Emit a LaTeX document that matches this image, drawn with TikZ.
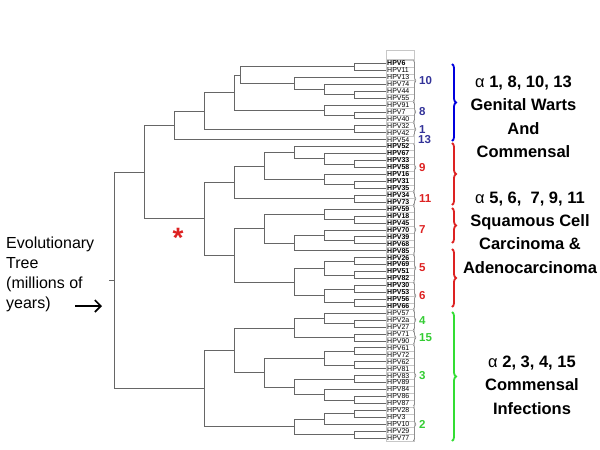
\documentclass[tikz,border=0pt]{standalone}
\usepackage{fontspec}
\setmainfont{Liberation Sans}
\usetikzlibrary{calc,decorations.pathreplacing,arrows.meta}
\definecolor{navy}{HTML}{333399}
\definecolor{bred}{HTML}{DD2222}
\definecolor{bgreen}{HTML}{33CC33}
\definecolor{pblue}{HTML}{0000DD}
\definecolor{pgreen}{HTML}{33DD33}
\tikzset{
  treeline/.style={draw=black!60, line width=0.7pt},
  leafbox/.style={draw=black!22, line width=0.4pt, anchor=west, inner xsep=1pt, inner ysep=0pt,
    text width=26pt, minimum height=6.94pt, align=left, font=\fontsize{7}{7}\selectfont},
  sbrace/.style={draw=black!55, line width=0.5pt, decorate, decoration={brace, amplitude=2.5pt}},
  bbrace/.style={line width=1.8pt, decorate, decoration={brace, amplitude=4pt}},
  grpnum/.style={inner sep=0pt, font=\bfseries\fontsize{11.5}{11.5}\selectfont},
  bigtxt/.style={align=center, inner sep=0pt, font=\bfseries\fontsize{16.5}{23.4}\selectfont},
}
\newcommand\tjoin[4]{%
  \path let \p1=(#3), \p2=(#4) in (#2pt,{(\y1+\y2)/2}) coordinate (#1);
  \draw[treeline] (#1) |- (#3);
  \draw[treeline] (#1) |- (#4);
}
\newcommand\grp[4]{%
  \draw[sbrace] ([xshift=-1pt,yshift=-0.8pt]h#1.north east) -- ([xshift=-1pt,yshift=0.8pt]h#2.south east)
    node[midway, anchor=west, xshift=5.5pt, grpnum, text=#4] (n#3) {#3};
}
\begin{document}
\begin{tikzpicture}[x=1pt,y=-1pt]
\useasboundingbox (0,0) rectangle (600,450);
% leaf labels
\foreach \i/\t/\b in {1/6/1, 2/11/0, 3/13/0, 4/74/0, 5/44/0, 6/55/0, 7/91/0, 8/7/0, 9/40/0, 10/32/0,
  11/42/0, 12/54/0, 13/52/1, 14/67/1, 15/33/1, 16/58/1, 17/16/1, 18/31/1, 19/35/1, 20/34/1,
  21/73/1, 22/59/1, 23/18/1, 24/45/1, 25/70/1, 26/39/1, 27/68/1, 28/85/1, 29/26/1, 30/69/1,
  31/51/1, 32/82/1, 33/30/1, 34/53/1, 35/56/1, 36/66/1, 37/57/0, 38/2a/0, 39/27/0, 40/71/0,
  41/90/0, 42/61/0, 43/72/0, 44/62/0, 45/81/0, 46/83/0, 47/89/0, 48/84/0, 49/86/0, 50/87/0,
  51/28/0, 52/3/0, 53/10/0, 54/29/0, 55/77/0}{
  \node[leafbox] (h\i) at (386,{63.3+(\i-1)*6.94}) {\ifnum\b=1 \bfseries\fi HPV\t};
}
\node[draw=black!22, line width=0.4pt, anchor=south west, inner sep=0pt, minimum width=28pt, minimum height=9pt] (hdr) at (h1.north west) {};
% alpha 10, 8, 1, 13
\tjoin{a1}{354}{h1}{h2}
\tjoin{a2}{354}{h5}{h6}
\tjoin{a3}{324}{h4}{a2}
\tjoin{a4}{294}{h3}{a3}
\tjoin{a5}{240}{a1}{a4}
\tjoin{b1}{354}{h8}{h9}
\tjoin{b2}{324}{h7}{b1}
\tjoin{c1}{234}{a5}{b2}
\tjoin{d1}{354}{h10}{h11}
\tjoin{c2}{204}{c1}{d1}
\tjoin{c3}{174}{c2}{h12}
% alpha 9, 11
\tjoin{e1}{354}{h15}{h16}
\tjoin{e2}{324}{h14}{e1}
\tjoin{e3}{294}{h13}{e2}
\tjoin{e4}{354}{h18}{h19}
\tjoin{e5}{324}{h17}{e4}
\tjoin{e6}{264}{e3}{e5}
\tjoin{f1}{354}{h20}{h21}
\tjoin{g1}{234}{e6}{f1}
% alpha 7, 5, 6
\tjoin{k1}{354}{h23}{h24}
\tjoin{k2}{324}{h22}{k1}
\tjoin{k3}{354}{h26}{h27}
\tjoin{k4}{324}{h25}{k3}
\tjoin{k5}{294}{k4}{h28}
\tjoin{k6}{264}{k2}{k5}
\tjoin{m1}{354}{h29}{h30}
\tjoin{m2}{354}{h31}{h32}
\tjoin{m3}{324}{m1}{m2}
\tjoin{m4}{354}{h33}{h34}
\tjoin{m5}{354}{h35}{h36}
\tjoin{m6}{324}{m4}{m5}
\tjoin{m7}{294}{m3}{m6}
\tjoin{g2}{234}{k6}{m7}
\tjoin{g3}{204}{g1}{g2}
\tjoin{c4}{144}{c3}{g3}
% alpha 4, 15, 3, 2
\tjoin{p1}{354}{h38}{h39}
\tjoin{p2}{324}{h37}{p1}
\tjoin{p3}{354}{h40}{h41}
\tjoin{p4}{294}{p2}{p3}
\tjoin{q1}{354}{h42}{h43}
\tjoin{q2}{354}{h44}{h45}
\tjoin{q3}{324}{q1}{q2}
\tjoin{q4}{354}{h46}{h47}
\tjoin{q5}{354}{h49}{h50}
\tjoin{q6}{324}{h48}{q5}
\tjoin{q7}{294}{q4}{q6}
\tjoin{q8}{264}{q3}{q7}
\tjoin{r1}{234}{p4}{q8}
\tjoin{s1}{354}{h51}{h52}
\tjoin{s2}{324}{s1}{h53}
\tjoin{s3}{354}{h54}{h55}
\tjoin{s4}{294}{s2}{s3}
\tjoin{r2}{204}{r1}{s4}
\tjoin{root}{114}{c4}{r2}
\path let \p1=(root) in (109pt,\y1) coordinate (rootL);
\draw[treeline] (rootL) -- (root);
% small group braces and numbers
\grp{1}{6}{10}{navy}
\grp{7}{9}{8}{navy}
\grp{10}{11}{1}{navy}
\node[grpnum, text=navy, anchor=west] (n13) at (418,140) {13};
\grp{13}{19}{9}{bred}
\grp{20}{21}{11}{bred}
\grp{22}{28}{7}{bred}
\grp{29}{32}{5}{bred}
\grp{33}{36}{6}{bred}
\grp{37}{39}{4}{bgreen}
\grp{40}{41}{15}{bgreen}
\grp{42}{50}{3}{bgreen}
\grp{51}{55}{2}{bgreen}
% big braces
\draw[bbrace, draw=pblue] (452,64) -- (452,141);
\draw[bbrace, draw=bred] (452,143) -- (452,205);
\draw[bbrace, draw=bred] (452,208) -- (452,243);
\draw[bbrace, draw=bred] (452,249) -- (452,307);
\draw[bbrace, draw=pgreen] (452,312) -- (452,441);
% big texts
\node[bigtxt] (t1) at (523.5,117) {{\mdseries α} 1, 8, 10, 13\\Genital Warts\\And\\Commensal};
\node[bigtxt] (t2) at (530,232.5) {{\mdseries α} 5, 6,\ \ 7, 9, 11\\Squamous Cell\\Carcinoma \&\\Adenocarcinoma};
\node[bigtxt] (t3) at (532,385) {{\mdseries α} 2, 3, 4, 15\\Commensal\\Infections};
% left text and arrow
\node[align=left, inner sep=0pt, anchor=west, font=\fontsize{16}{20}\selectfont] (evo) at (6,274.5)
  {Evolutionary\\Tree\\(millions of\\years)};
\coordinate (arrS) at (75,306);
\coordinate (arrE) at (102,306);
\draw[line width=1.6pt, -{Straight Barb[length=6pt,width=12pt]}] (arrS) -- (arrE);
% asterisk
\node[text=bred, inner sep=0pt, anchor=base, font=\bfseries\fontsize{28}{28}\selectfont] (ast) at (178,247) {*};
\end{tikzpicture}
\end{document}
